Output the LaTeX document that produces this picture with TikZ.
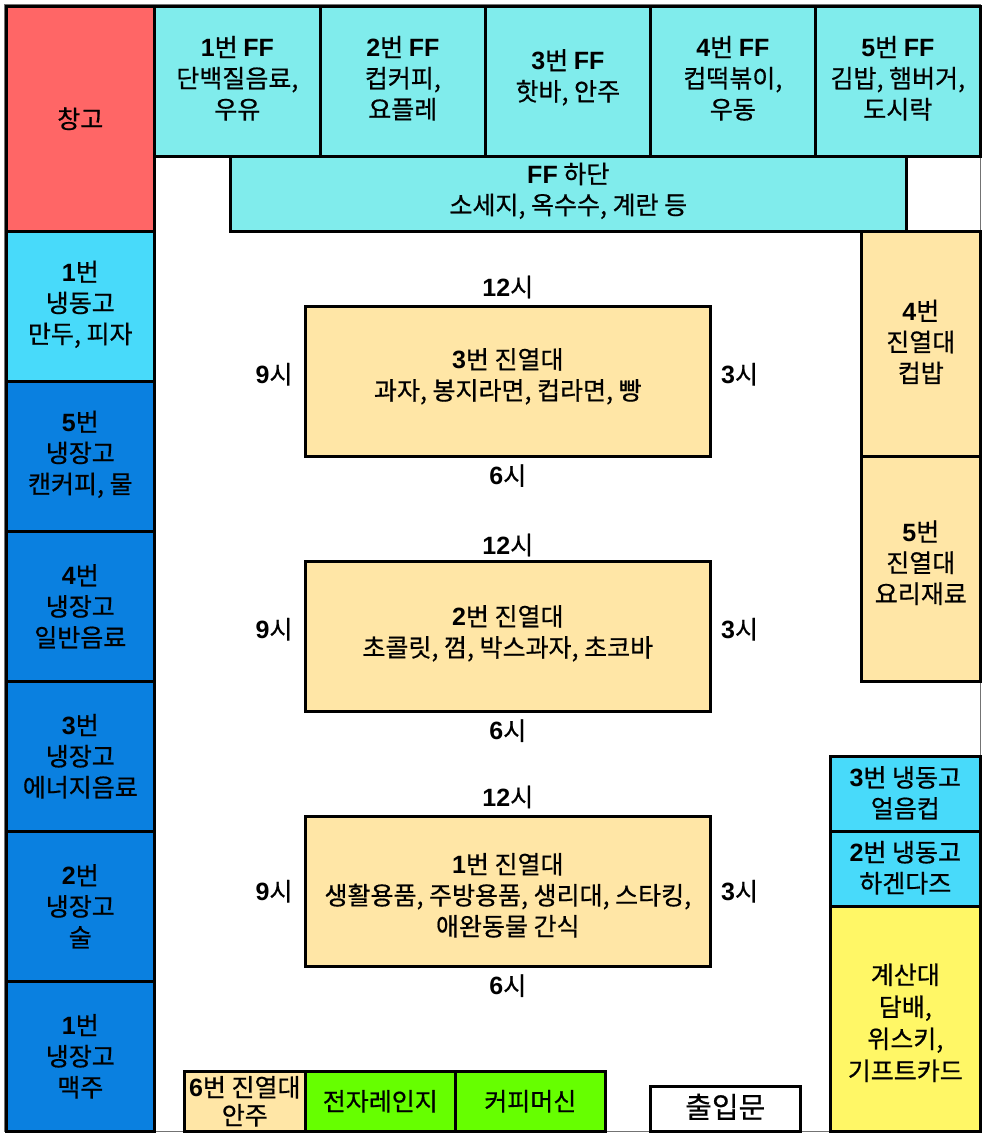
\documentclass[tikz,border=0pt]{standalone}
\usepackage{fontspec}
\setmainfont{Noto Sans CJK KR}[FakeBold=0.6]
\newfontfamily\arialfam{Liberation Sans}
\newcommand\nb[1]{{\arialfam\bfseries #1}}
\definecolor{cred}{RGB}{255,102,102}
\definecolor{cff}{RGB}{128,236,236}
\definecolor{cfz}{RGB}{72,218,250}
\definecolor{cfr}{RGB}{10,128,224}
\definecolor{cshelf}{RGB}{255,230,166}
\definecolor{cyel}{RGB}{255,247,102}
\definecolor{cgrn}{RGB}{102,255,0}
\newcommand\blk[8]{%
  \node[box, fill=#6, anchor=north west, minimum width={(#4-#2)*1pt}, minimum height={(#5-#3)*1pt}] (#1) at (#2,#3) {};
  \node[txt] (#1-t) at ([yshift=#7pt]#1.center) {#8};}
\begin{document}
\begin{tikzpicture}[x=1pt,y=-1pt,
  box/.style={draw=black, line width=2.6pt, inner sep=0pt},
  txt/.style={inner sep=0pt, align=center, font=\fontsize{25}{31}\selectfont},
  lbl/.style={inner sep=0pt, font=\fontsize{25}{31}\selectfont}]
\useasboundingbox (0,0) rectangle (985,1134);
\fill[white] (0,0) rectangle (985,1134);
\draw[black!55, line width=1pt] (4,5) rectangle (980,1131);
% top row
\blk{ware}{5}{5}{153}{230}{cred}{0}{창고}
\blk{ffa}{153}{5}{319}{155}{cff}{3}{\nb{1}번 \nb{FF}\\단백질음료,\\우유}
\blk{ffb}{319}{5}{484}{155}{cff}{3}{\nb{2}번 \nb{FF}\\컵커피,\\요플레}
\blk{ffc}{484}{5}{649}{155}{cff}{4}{\nb{3}번 \nb{FF}\\핫바, 안주}
\blk{ffd}{649}{5}{814}{155}{cff}{3}{\nb{4}번 \nb{FF}\\컵떡볶이,\\우동}
\blk{ffe}{814}{5}{979}{155}{cff}{3}{\nb{5}번 \nb{FF}\\김밥, 햄버거,\\도시락}
\blk{ffl}{229}{155}{905}{230}{cff}{3}{\nb{FF} 하단\\소세지, 옥수수, 계란 등}
% left column
\blk{fza}{5}{230}{153}{380}{cfz}{2}{\nb{1}번\\냉동고\\만두, 피자}
\blk{fre}{5}{380}{153}{530}{cfr}{2}{\nb{5}번\\냉장고\\캔커피, 물}
\blk{frd}{5}{530}{153}{680}{cfr}{0}{\nb{4}번\\냉장고\\일반음료}
\blk{frc}{5}{680}{153}{830}{cfr}{0}{\nb{3}번\\냉장고\\에너지음료}
\blk{frb}{5}{830}{153}{980}{cfr}{0}{\nb{2}번\\냉장고\\술}
\blk{fra}{5}{980}{153}{1130}{cfr}{0}{\nb{1}번\\냉장고\\맥주}
% right column
\blk{shd}{860}{230}{979}{455}{cshelf}{2}{\nb{4}번\\진열대\\컵밥}
\blk{she}{860}{455}{979}{680}{cshelf}{6}{\nb{5}번\\진열대\\요리재료}
\blk{fzc}{829}{755}{979}{830}{cfz}{1}{\nb{3}번 냉동고\\얼음컵}
\blk{fzb}{829}{830}{979}{905}{cfz}{1}{\nb{2}번 냉동고\\하겐다즈}
\blk{cash}{829}{905}{979}{1130}{cyel}{-4}{계산대\\[1pt]담배,\\[1pt]위스키,\\[1pt]기프트카드}
% center shelves
\blk{shc}{304}{305}{709}{455}{cshelf}{5}{\nb{3}번 진열대\\과자, 봉지라면, 컵라면, 빵}
\blk{shb}{304}{560}{709}{710}{cshelf}{3}{\nb{2}번 진열대\\초콜릿, 껌, 박스과자, 초코바}
\blk{sha}{304}{815}{709}{965}{cshelf}{-4}{\nb{1}번 진열대\\생활용품, 주방용품, 생리대, 스타킹,\\애완동물 간식}
% bottom
\blk{shf}{183}{1070}{304}{1130}{cshelf}{0}{\nb{6}번 진열대\\[-3pt]안주}
\blk{micro}{304}{1070}{454}{1130}{cgrn}{0}{전자레인지}
\blk{coffee}{454}{1070}{604}{1130}{cgrn}{0}{커피머신}
\blk{door}{649}{1085}{799}{1130}{white}{2}{{\fontsize{29}{31}\selectfont 출입문}}
% clock labels
\foreach \s/\t/\tp/\sd in {shc/c/18/7,shb/b/15/7,sha/a/18/0}{
  \node[lbl] (n12\t) at ([yshift=\tp pt]\s.north) {\nb{12}시};
  \node[lbl] (n6\t) at ([yshift=-18pt]\s.south) {\nb{6}시};
  \node[lbl] (n9\t) at ([xshift=-30pt,yshift=\sd pt]\s.west) {\nb{9}시};
  \node[lbl] (n3\t) at ([xshift=28pt,yshift=\sd pt]\s.east) {\nb{3}시};
}
\end{tikzpicture}
\end{document}
